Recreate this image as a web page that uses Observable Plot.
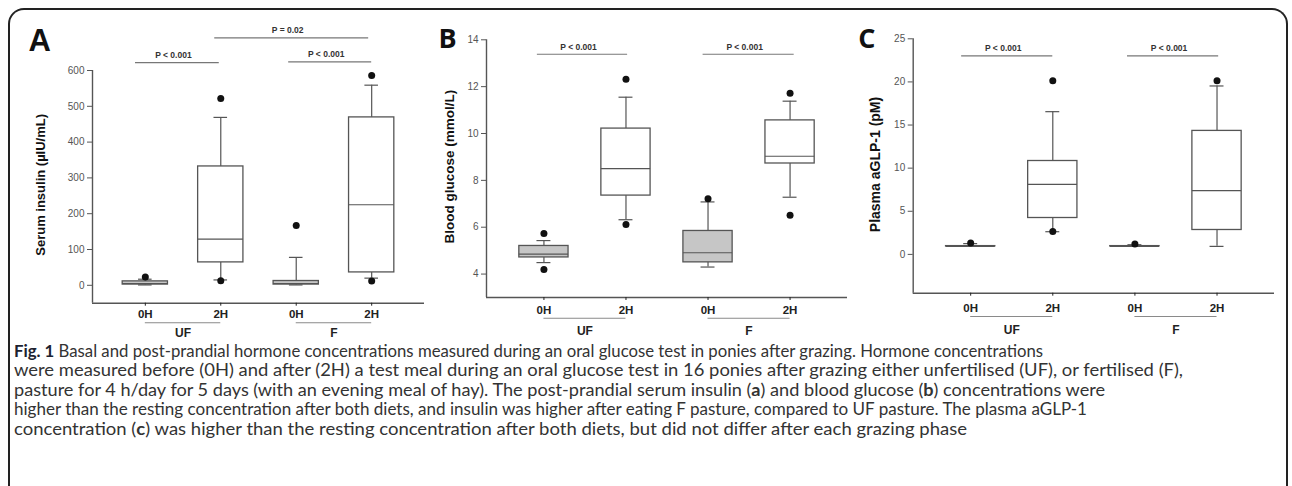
<!DOCTYPE html>
<html><head><meta charset="utf-8">
<script src="https://cdn.jsdelivr.net/npm/d3@7"></script>
<script src="https://cdn.jsdelivr.net/npm/@observablehq/plot@0.6"></script>
<style>
html,body{margin:0;padding:0;background:#fff;width:1292px;height:486px;overflow:hidden;}
#root{position:relative;width:1292px;height:486px;overflow:hidden;}
#border{position:absolute;left:8px;top:8px;width:1280px;height:600px;border:2px solid #222;border-bottom:none;border-radius:16px 16px 0 0;box-sizing:border-box;}
.panel{position:absolute;top:0;}
#caption{position:absolute;left:14px;top:341px;font-family:"Lato",sans-serif;color:#333;white-space:nowrap;line-height:19.4px;font-size:17px;}
#caption .ln{width:max-content;transform-origin:0 50%;}
#caption .fig{font-weight:bold;color:#1c2230;}
#caption b{font-weight:bold;}
</style></head><body>
<div id="root">
<div id="border"></div>
<div id="pA" class="panel" style="left:0px"></div>
<div id="pB" class="panel" style="left:430px"></div>
<div id="pC" class="panel" style="left:850px"></div>
<div id="caption">
<div class="ln"><span class="fig">Fig. 1</span> Basal and post-prandial hormone concentrations measured during an oral glucose test in ponies after grazing. Hormone concentrations</div>
<div class="ln">were measured before (0H) and after (2H) a test meal during an oral glucose test in 16 ponies after grazing either unfertilised (UF), or fertilised (F),</div>
<div class="ln">pasture for 4 h/day for 5 days (with an evening meal of hay). The post-prandial serum insulin (<b>a</b>) and blood glucose (<b>b</b>) concentrations were</div>
<div class="ln">higher than the resting concentration after both diets, and insulin was higher after eating F pasture, compared to UF pasture. The plasma aGLP-1</div>
<div class="ln">concentration (<b>c</b>) was higher than the resting concentration after both diets, but did not differ after each grazing phase</div>
</div>
</div>
<script>
// ---------- categories ----------
const categories = ["0H", "2H", "0H", "2H"];
const groupOf = ["UF", "UF", "F", "F"];
const groupLabels = ["UF", "F"];
const groupFrom = [1, 3];
const groupTo = [2, 4];

// ---------- Panel A: serum insulin (µIU/mL) ----------
const insulinLow = [1, 15, 1, 20];
const insulinQ1 = [2, 64, 2, 36];
const insulinMedian = [5, 129, 5, 225];
const insulinQ3 = [11, 332, 12, 469];
const insulinHigh = [17, 469, 78, 559];
const insulinOutliers = [[23], [522, 13], [167], [586, 12]];
const insulinTicks = [0, 100, 200, 300, 400, 500, 600];
const insulinBracketFrom = [0.87, 2.9, 1.92];
const insulinBracketTo = [1.98, 4.0, 3.96];
const insulinBracketLevel = [622, 624, 691];
const insulinBracketLabel = ["P < 0.001", "P < 0.001", "P = 0.02"];

// ---------- Panel B: blood glucose (mmol/L) ----------
const glucoseLow = [4.49, 6.32, 4.30, 7.28];
const glucoseQ1 = [4.71, 7.35, 4.50, 8.72];
const glucoseMedian = [4.85, 8.50, 4.91, 9.03];
const glucoseQ3 = [5.20, 10.21, 5.84, 10.56];
const glucoseHigh = [5.43, 11.55, 7.08, 11.38];
const glucoseOutliers = [[5.73, 4.20], [12.32, 6.12], [7.22], [11.72, 6.51]];
const glucoseTicks = [4, 6, 8, 10, 12, 14];
const glucoseBracketFrom = [0.92, 2.94];
const glucoseBracketTo = [2.02, 4.05];
const glucoseBracketLevel = [13.38, 13.38];
const glucoseBracketLabel = ["P < 0.001", "P < 0.001"];

// ---------- Panel C: plasma aGLP-1 (pM) ----------
const glpLow = [0.93, 2.63, 0.93, 0.93];
const glpQ1 = [0.93, 4.22, 0.93, 2.83];
const glpMedian = [0.93, 8.12, 0.93, 7.39];
const glpQ3 = [0.96, 10.83, 0.96, 14.32];
const glpHigh = [1.25, 16.55, 1.12, 19.53];
const glpOutliers = [[1.32], [20.15, 2.65], [1.2], [20.15]];
const glpTicks = [0, 5, 10, 15, 20, 25];
const glpBracketFrom = [0.89, 2.91];
const glpBracketTo = [2.0, 4.02];
const glpBracketLevel = [23.02, 23.02];
const glpBracketLabel = ["P < 0.001", "P < 0.001"];

const X_DOMAIN = [0.3, 4.7];
const BOX_HALF = 0.3;
const GREY = "#c6c6c6";
const INK = "#555";

function buildPanel(cfg) {
  const boxes = categories.map((c, k) => ({
    i: k + 1, cat: c, grp: groupOf[k],
    low: cfg.low[k], q1: cfg.q1[k], med: cfg.median[k], q3: cfg.q3[k], high: cfg.high[k]
  }));
  const outs = [];
  cfg.outliers.forEach((arr, k) => arr.forEach(v => outs.push({i: k + 1, v})));
  const brackets = cfg.bFrom.map((f, k) => ({from: f, to: cfg.bTo[k], level: cfg.bLevel[k], label: cfg.bLabel[k]}));
  const groups = groupLabels.map((g, k) => ({g, from: groupFrom[k], to: groupTo[k]}));
  const y0 = cfg.yDomain[0];
  const cap = cfg.cap;
  return Plot.plot({
    width: cfg.width, height: cfg.height,
    marginLeft: cfg.ml, marginRight: cfg.mr, marginTop: cfg.mt, marginBottom: cfg.mb,
    style: {fontFamily: "'Liberation Sans', Arial, sans-serif", fontSize: "10px", background: "transparent", overflow: "visible"},
    x: {domain: X_DOMAIN},
    y: {domain: cfg.yDomain},
    marks: [
      Plot.ruleX([X_DOMAIN[0]], {stroke: INK, strokeWidth: 1.4}),
      Plot.ruleY([y0], {stroke: INK, strokeWidth: 1.4}),
      Plot.axisY({ticks: cfg.ticks, tickSize: 5, tickPadding: 3, fontSize: 10, color: "#555", label: null, tickFormat: d => String(d)}),
      Plot.axisX({ticks: [1, 2, 3, 4], tickFormat: i => categories[i - 1], tickSize: 3, tickPadding: cfg.xPad, fontSize: 11.5, fontWeight: "bold", color: "#222", label: null}),
      Plot.ruleX(boxes, {x: "i", y1: "q3", y2: "high", stroke: INK, strokeWidth: 1.2}),
      Plot.ruleX(boxes, {x: "i", y1: "low", y2: "q1", stroke: INK, strokeWidth: 1.2}),
      Plot.ruleY(boxes, {x1: d => d.i - cap, x2: d => d.i + cap, y: "high", stroke: INK, strokeWidth: 1.2}),
      Plot.ruleY(boxes, {x1: d => d.i - cap, x2: d => d.i + cap, y: "low", stroke: INK, strokeWidth: 1.2}),
      Plot.rect(boxes, {x1: d => d.i - BOX_HALF, x2: d => d.i + BOX_HALF, y1: "q1", y2: "q3",
        fill: d => d.cat === "0H" ? GREY : "white", stroke: INK, strokeWidth: 1.3}),
      Plot.ruleY(boxes, {x1: d => d.i - BOX_HALF, x2: d => d.i + BOX_HALF, y: "med", stroke: INK, strokeWidth: 1.2}),
      Plot.dot(outs, {x: "i", y: "v", r: 3.5, fill: "#111", stroke: "none"}),
      Plot.ruleY(brackets, {x1: "from", x2: "to", y: "level", stroke: "#777", strokeWidth: 1.1}),
      Plot.text(brackets, {x: d => (d.from + d.to) / 2, y: "level", text: "label", dy: -7.5, dx: -4,
        fontSize: 8.5, fontWeight: "bold", fill: "#333", lineAnchor: "middle"}),
      Plot.ruleY(groups, {x1: "from", x2: "to", y: () => y0, dy: cfg.groupDy, stroke: "#8a8a8a", strokeWidth: 1.1}),
      Plot.text(groups, {x: d => (d.from + d.to) / 2, y: () => y0, dy: cfg.labelDy, text: "g",
        fontSize: 12, fontWeight: "bold", fill: "#222", lineAnchor: "middle"}),
      Plot.text([cfg.title], {frameAnchor: "left", rotate: -90, dx: -cfg.titleOff, dy: cfg.titleDy,
        textAnchor: "middle", fontSize: cfg.titleSize, fontWeight: "bold", fill: "#111", lineAnchor: "middle"}),
      Plot.text([cfg.letter], {frameAnchor: "top-left", dx: cfg.letterDx, dy: cfg.letterDy,
        textAnchor: "start", lineAnchor: "bottom", fontSize: cfg.letterSize, fontWeight: "bold",
        fontFamily: cfg.letterFont, fill: "#111"})
    ]
  });
}

document.getElementById("pA").append(buildPanel({
  width: 430, height: 345, ml: 92, mr: 6, mt: 70, mb: 345 - 302.7,
  yDomain: [-50, 600], ticks: insulinTicks,
  low: insulinLow, q1: insulinQ1, median: insulinMedian, q3: insulinQ3, high: insulinHigh, outliers: insulinOutliers,
  bFrom: insulinBracketFrom, bTo: insulinBracketTo, bLevel: insulinBracketLevel, bLabel: insulinBracketLabel,
  cap: 0.09, xPad: 3.5, groupDy: 19.6, labelDy: 30,
  title: "Serum insulin (µIU/mL)", titleOff: 52, titleDy: -2, titleSize: 13,
  letter: "A", letterDx: -64, letterDy: -20, letterSize: 31, letterFont: "'Liberation Sans', Arial, sans-serif"
}));

document.getElementById("pB").append(buildPanel({
  width: 430, height: 345, ml: 56, mr: 13, mt: 39.3, mb: 345 - 297,
  yDomain: [3, 14], ticks: glucoseTicks,
  low: glucoseLow, q1: glucoseQ1, median: glucoseMedian, q3: glucoseQ3, high: glucoseHigh, outliers: glucoseOutliers,
  bFrom: glucoseBracketFrom, bTo: glucoseBracketTo, bLevel: glucoseBracketLevel, bLabel: glucoseBracketLabel,
  cap: 0.085, xPad: 5.2, groupDy: 20.7, labelDy: 34,
  title: "Blood glucose (mmol/L)", titleOff: 37, titleDy: -2, titleSize: 13.5,
  letter: "B", letterDx: -48, letterDy: 8, letterSize: 27, letterFont: "'Open Sans', sans-serif"
}));

document.getElementById("pC").append(buildPanel({
  width: 442, height: 345, ml: 62.7, mr: 18, mt: 38.3, mb: 345 - 292.7,
  yDomain: [-4.5, 25], ticks: glpTicks,
  low: glpLow, q1: glpQ1, median: glpMedian, q3: glpQ3, high: glpHigh, outliers: glpOutliers,
  bFrom: glpBracketFrom, bTo: glpBracketTo, bLevel: glpBracketLevel, bLabel: glpBracketLabel,
  cap: 0.085, xPad: 7.9, groupDy: 23.3, labelDy: 37,
  title: "Plasma aGLP-1 (pM)", titleOff: 38, titleDy: -1.5, titleSize: 14,
  letter: "C", letterDx: -55, letterDy: 9, letterSize: 27, letterFont: "'Open Sans', sans-serif"
}));

// scale each caption line so it ends where the reference line ends
(function fitCaption() {
  const ends = [1043, 1183, 1105, 1087, 967];
  const lines = document.querySelectorAll("#caption .ln");
  lines.forEach((ln, k) => {
    const w = ln.getBoundingClientRect().width;
    const target = ends[k] - 14;
    ln.style.transform = "scaleX(" + (target / w).toFixed(4) + ")";
  });
})();
</script>
</body></html>
